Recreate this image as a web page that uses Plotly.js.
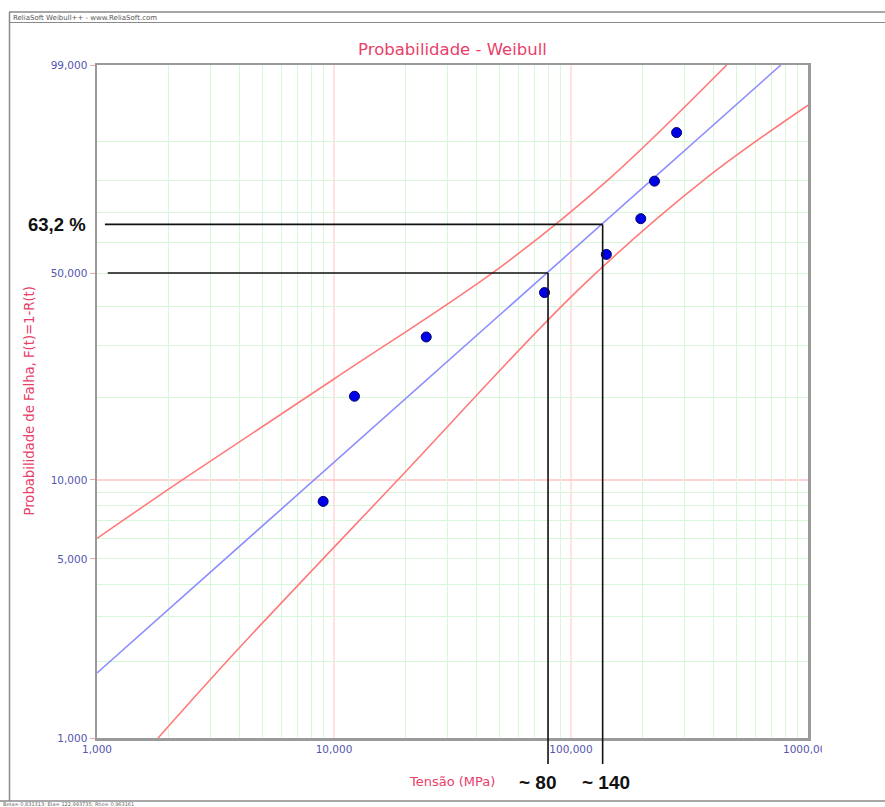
<!DOCTYPE html>
<html><head><meta charset="utf-8">
<script src="https://cdn.plot.ly/plotly-3.0.1.min.js"></script>
<style>html,body{margin:0;padding:0;background:#fff;overflow:hidden}#chart{width:885px;height:807px;}</style>
</head><body><div id="chart"></div>
<script>
// ---- data ----
const tensao     = [9.0, 12.2, 24.5, 77.3, 141, 197, 225, 279];      // MPa
const probFalha  = [8.3, 20.2, 32.1, 44.0, 56.0, 67.9, 79.8, 91.7];   // %
const fitX   = [1, 768];
const fitF   = [1.8, 99];
const upperX = [1, 2.29, 10, 50.4, 143, 454];
const upperF = [6.0, 10.0, 23.2, 51.9, 80.1, 99];
const lowerX = [1.81, 3.83, 19.1, 107, 363, 1000];
const lowerF = [1, 2.17, 10.25, 44.75, 80.1, 95.9];
const yTickF    = [1, 5, 10, 50, 99];
const yTickText = ['1,000', '5,000', '10,000', '50,000', '99,000'];
const xTickVals = [1, 10, 100, 1000];
const xTickText = ['1,000', '10,000', '100,000', '1000,000'];
const xMinor  = [2,3,4,5,6,7,8,9,20,30,40,50,60,70,80,90,200,300,400,500,600,700,800,900];
const yMinorF = [2,3,4,5,6,7,8,9,20,30,40,50,60,70,80,90];
const yMajorRedF = [10];
const xMajorRed  = [10, 100];
// hand-drawn guides
const guideX      = [80, 136];
const guideF      = [50, 66];
const guideStartX = [1.11, 1.08];
const guideText   = ['~ 80', '~ 140'];
const guideLabelF = '63,2 %';
const footerText  = 'Beta= 0,831313; Eta= 122,993735; Rho= 0,963161';

// ---- Weibull probability axis: w = ln(-ln(1-F)) ----
const w = F => Math.log(-Math.log(1 - F / 100));

// layout geometry (pixels)
const W = 885, H = 807, L = 97, R = 77, T = 65, B = 69;
const PW = W - L - R, PH = H - T - B;
const px = x => (x - L) / PW;           // pixel -> paper x
const py = y => (H - B - y) / PH;       // pixel -> paper y

const tickColor = '#5555b0';
const pink = '#e8406a';
const green = '#d9f6d9';
const redGrid = '#ffc4c4';

const traces = [
  { x: upperX, y: upperF.map(w), mode: 'lines', line: {color: '#ff7a7a', width: 1.6, shape: 'spline'}, hoverinfo: 'skip' },
  { x: lowerX, y: lowerF.map(w), mode: 'lines', line: {color: '#ff7a7a', width: 1.6, shape: 'spline'}, hoverinfo: 'skip' },
  { x: fitX, y: fitF.map(w), mode: 'lines', line: {color: '#8c8cff', width: 1.6}, hoverinfo: 'skip' },
  { x: tensao, y: probFalha.map(w), mode: 'markers',
    marker: {color: '#0000e8', size: 10, line: {color: '#00006a', width: 1}} }
];

const shapes = [];
xMajorRed.forEach(v => shapes.push({type: 'line', xref: 'x', yref: 'paper', x0: v, x1: v, y0: 0, y1: 1, layer: 'below', line: {color: redGrid, width: 1}}));
yMajorRedF.forEach(f => shapes.push({type: 'line', xref: 'paper', yref: 'y', x0: 0, x1: 1, y0: w(f), y1: w(f), layer: 'below', line: {color: redGrid, width: 1.5}}));
// guides
guideX.forEach((gx, i) => {
  shapes.push({type: 'line', xref: 'x', yref: 'y', x0: guideStartX[i], x1: gx, y0: w(guideF[i]), y1: w(guideF[i]), line: {color: '#111', width: 1.6}});
  shapes.push({type: 'line', xref: 'x', yref: 'y', x0: gx, x1: gx, y0: w(guideF[i]), y1: w(1), line: {color: '#111', width: 1.6}});
  shapes.push({type: 'line', xref: 'x', yref: 'paper', x0: gx, x1: gx, y0: 0, y1: py(764), line: {color: '#111', width: 1.6}});
});
// window frame
shapes.push({type: 'rect', xref: 'paper', yref: 'paper', x0: px(822), x1: px(880), y0: py(742), y1: py(760), fillcolor: '#fff', line: {width: 0}, layer: 'above'});
shapes.push({type: 'line', xref: 'paper', yref: 'paper', x0: px(9), x1: px(885), y0: py(12), y1: py(12), line: {color: '#8a8a8a', width: 1.5}, layer: 'above'});
shapes.push({type: 'line', xref: 'paper', yref: 'paper', x0: px(9), x1: px(885), y0: py(22.5), y1: py(22.5), line: {color: '#8a8a8a', width: 1}, layer: 'above'});
shapes.push({type: 'line', xref: 'paper', yref: 'paper', x0: px(9.5), x1: px(9.5), y0: py(12), y1: py(801), line: {color: '#8a8a8a', width: 1.5}, layer: 'above'});
shapes.push({type: 'line', xref: 'paper', yref: 'paper', x0: px(0), x1: px(885), y0: py(801), y1: py(801), line: {color: '#8a8a8a', width: 1.5}, layer: 'above'});

const annotations = [
  {xref: 'paper', yref: 'paper', x: px(11), y: py(17.5), xanchor: 'left', yanchor: 'middle', showarrow: false,
   text: 'ReliaSoft Weibull++ - www.ReliaSoft.com', font: {family: 'DejaVu Sans', size: 7, color: '#555'}},
  {xref: 'paper', yref: 'paper', x: px(1), y: py(804.3), xanchor: 'left', yanchor: 'middle', showarrow: false,
   text: footerText, font: {family: 'DejaVu Sans', size: 5, color: '#666'}},
  {xref: 'paper', yref: 'paper', x: px(29), y: py(401.5), xanchor: 'center', yanchor: 'middle', showarrow: false, textangle: -90,
   text: 'Probabilidade de Falha, F(t)=1-R(t)', font: {family: 'DejaVu Sans', size: 13.2, color: pink}},
  {xref: 'paper', yref: 'paper', x: px(452), y: py(781), xanchor: 'center', yanchor: 'middle', showarrow: false,
   text: 'Tensão (MPa)', font: {family: 'DejaVu Sans', size: 13, color: pink}},
  {xref: 'paper', yref: 'y', x: px(88), y: w(guideF[1]), xanchor: 'right', yanchor: 'middle', showarrow: false,
   text: '<b>' + guideLabelF + '</b>', font: {family: 'Liberation Sans', size: 18.5, color: '#111'}},
  {xref: 'paper', yref: 'paper', x: px(538), y: py(782), xanchor: 'center', yanchor: 'middle', showarrow: false,
   text: '<b>' + guideText[0] + '</b>', font: {family: 'Liberation Sans', size: 19, color: '#111'}},
  {xref: 'paper', yref: 'paper', x: px(605.5), y: py(782), xanchor: 'center', yanchor: 'middle', showarrow: false,
   text: '<b>' + guideText[1] + '</b>', font: {family: 'Liberation Sans', size: 19, color: '#111'}}
];

const layout = {
  width: W, height: H,
  margin: {l: L, r: R, t: T, b: B, pad: 0},
  paper_bgcolor: '#fff', plot_bgcolor: '#fff',
  showlegend: false,
  title: {text: 'Probabilidade - Weibull', font: {family: 'DejaVu Sans', size: 16.5, color: pink},
          x: 0.5, xref: 'paper', y: 1 - 49 / H, yanchor: 'middle'},
  xaxis: {type: 'log', range: [0, 3], tickmode: 'array', tickvals: xTickVals, ticktext: xTickText,
          showgrid: false, zeroline: false, ticks: '',
          minor: {tickmode: 'array', tickvals: xMinor, showgrid: true, gridcolor: green, gridwidth: 1, ticks: ''},
          showline: true, linecolor: '#9a9a9a', linewidth: 2.5, mirror: true,
          tickfont: {family: 'DejaVu Sans', size: 10.5, color: tickColor}},
  yaxis: {range: [w(1), w(99)], tickmode: 'array', tickvals: yTickF.map(w), ticktext: yTickText,
          showgrid: false, zeroline: false, ticks: 'outside', ticklen: 5, tickcolor: '#f2a6a6',
          minor: {tickmode: 'array', tickvals: yMinorF.map(w), showgrid: true, gridcolor: green, gridwidth: 1, ticks: ''},
          showline: true, linecolor: '#9a9a9a', linewidth: 2.5, mirror: true,
          tickfont: {family: 'DejaVu Sans', size: 10.5, color: tickColor}},
  shapes: shapes,
  annotations: annotations
};

Plotly.newPlot('chart', traces, layout, {staticPlot: true, displayModeBar: false});
</script>
</body></html>
